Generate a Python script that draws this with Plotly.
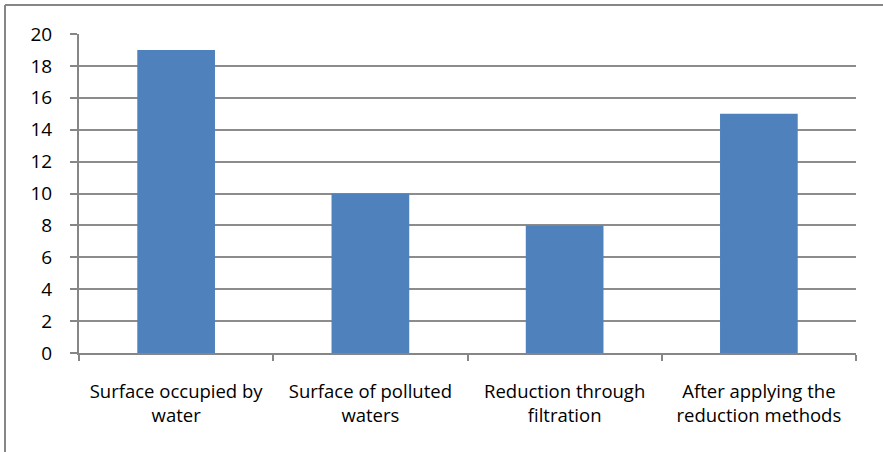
import plotly.graph_objects as go

categories = ["Surface occupied by<br>water", "Surface of polluted<br>waters",
              "Reduction through<br>filtration", "After applying the<br>reduction methods"]
values = [19, 10, 8, 15]
y_ticks = [0, 2, 4, 6, 8, 10, 12, 14, 16, 18, 20]

fig = go.Figure(go.Bar(x=categories, y=values, marker=dict(color="#4F81BD", line=dict(width=0)),
                       width=0.4))

W, H = 883, 452
L, R, T, B = 79, 27, 34, 99
pw, ph = W - L - R, H - T - B

def px2x(px):
    return (px - L) / pw

def py2y(py):
    return (H - B - py) / ph

fig.update_layout(
    width=W, height=H,
    margin=dict(l=L, r=R, t=T, b=B),
    paper_bgcolor="white", plot_bgcolor="white",
    font=dict(family="Open Sans, sans-serif", size=16, color="black"),
    showlegend=False,
    xaxis=dict(showgrid=False, showline=True, linecolor="#868686", linewidth=2,
               ticks="outside", tickson="boundaries", ticklen=6, tickcolor="#868686", tickwidth=2,
               ticklabelstandoff=21, tickfont=dict(size=18.5)),
    yaxis=dict(range=[0, 20], tickvals=y_ticks, showgrid=True, gridcolor="#8c8c8c", gridwidth=2,
               showline=True, linecolor="#868686", linewidth=2, zeroline=False,
               ticks="outside", ticklen=7, tickcolor="#868686", tickwidth=2,
               ticklabelstandoff=14, tickfont=dict(size=19)),
    shapes=[
        dict(type="line", xref="paper", yref="paper", x0=px2x(5), x1=px2x(5), y0=py2y(460), y1=py2y(5),
             line=dict(color="#868686", width=2)),
        dict(type="line", xref="paper", yref="paper", x0=px2x(5), x1=px2x(900), y0=py2y(5), y1=py2y(5),
             line=dict(color="#868686", width=2)),
    ],
)

fig.write_html("out.html", config={"displayModeBar": False},
               post_script="document.body.style.margin='0';")
